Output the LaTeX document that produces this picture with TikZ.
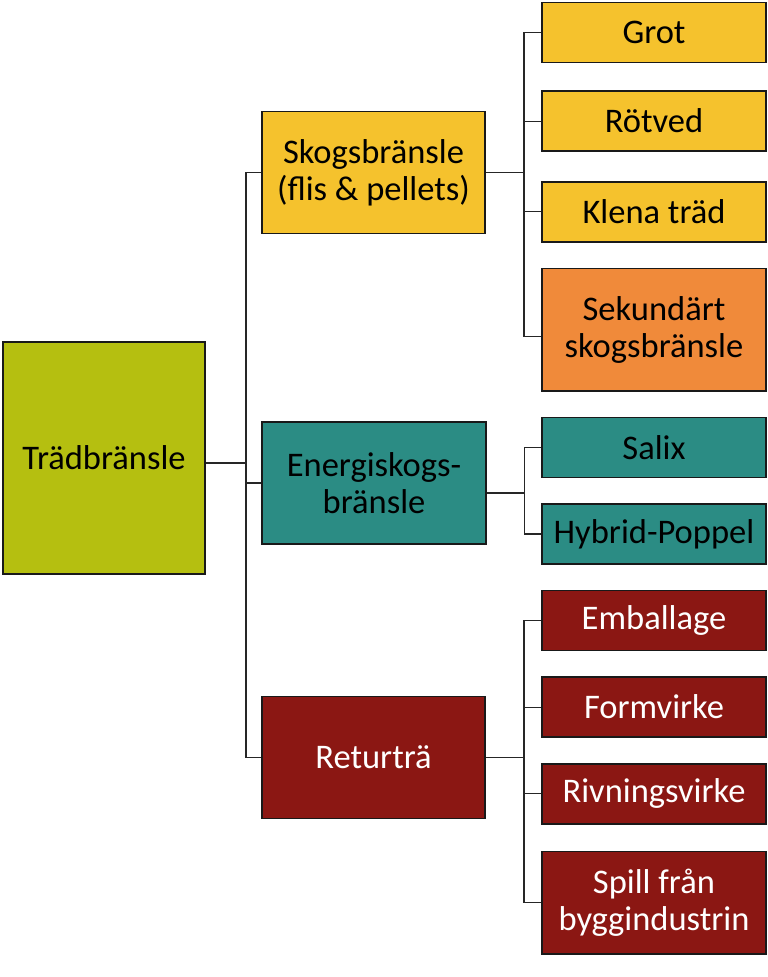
\documentclass[tikz,border=0pt]{standalone}
\usepackage{fontspec}
\setmainfont{Carlito}
\usepackage{xcolor}
\usepackage{tikz}
\usetikzlibrary{positioning}

\definecolor{rootgreen}{HTML}{B5BF10}
\definecolor{forestyellow}{HTML}{F5C22D}
\definecolor{secorange}{HTML}{F08A3A}
\definecolor{energyteal}{HTML}{2B8C84}
\definecolor{recycledred}{HTML}{8B1713}

\begin{document}
\begin{tikzpicture}[x=1pt, y=-1pt, node distance=25pt,
        every node/.style={font=\fontsize{34.5}{37}\selectfont, align=center},
        fuelbox/.style={draw=black!90, line width=1.6pt, minimum width=224.5pt, minimum height=60pt, inner sep=2pt},
        link/.style={draw=black!85, line width=1.2pt}]
        \useasboundingbox (0,0) rectangle (768,977);
        % Root
        \node[fuelbox, fill=rootgreen, minimum width=202.5pt, minimum height=232.5pt] (trad) at (104,458) {Trädbränsle};
        % Skogsbränsle
        \node[fuelbox, fill=forestyellow, minimum width=223.5pt, minimum height=122pt] (skogs) at (373.5,172.5) {Skogsbränsle\\(flis \& pellets)};
        % Energiskogsbränsle
        \node[fuelbox, fill=energyteal, minimum width=223.5pt, minimum height=122pt] (energi) at (374,483) {Energiskogs-\\bränsle};
        % Returträ
        \node[fuelbox, fill=recycledred, text=white, minimum width=223.5pt, minimum height=122pt] (retur) at (373.5,757.5) {Returträ};
        % Skogsbränsle kinds
        \node[fuelbox, fill=forestyellow] (grot) at (654,32.5) {Grot};
        \node[fuelbox, fill=forestyellow, below=27pt of grot] (rotved) {Rötved};
        \node[fuelbox, fill=forestyellow, below=29pt of rotved] (klena) {Klena träd};
        \node[fuelbox, fill=secorange, minimum height=122.4pt, below=of klena] (sekund) {Sekundärt\\skogsbränsle};
        % Energiskog kinds
        \node[fuelbox, fill=energyteal, below=of sekund] (salix) {Salix};
        \node[fuelbox, fill=energyteal, below=of salix] (hybrid) {Hybrid-Poppel};
        % Returträ kinds
        \node[fuelbox, fill=recycledred, text=white, below=of hybrid] (emballage) {Emballage};
        \node[fuelbox, fill=recycledred, text=white, below=of emballage] (formvirke) {Formvirke};
        \node[fuelbox, fill=recycledred, text=white, below=of formvirke] (rivning) {Rivningsvirke};
        \node[fuelbox, fill=recycledred, text=white, minimum height=102.4pt, below=26pt of rivning] (spill) {Spill från\\byggindustrin};
        % Links
        \draw[link] ([yshift=-5pt]trad.east) -- ++(40,0) |- (skogs.west);
        \draw[link] ([yshift=-5pt]trad.east) -- ++(40,0) |- (energi.west);
        \draw[link] ([yshift=-5pt]trad.east) -- ++(40,0) |- (retur.west);
        \draw[link] (skogs.east) -- ++(38,0) |- (grot.west);
        \draw[link] (skogs.east) -- ++(38,0) |- (rotved.west);
        \draw[link] (skogs.east) -- ++(38,0) |- (klena.west);
        \draw[link] (skogs.east) -- ++(38,0) |- ([yshift=-7pt]sekund.west);
        \draw[link] ([yshift=-10pt]energi.east) -- ++(38,0) |- (salix.west);
        \draw[link] ([yshift=-10pt]energi.east) -- ++(38,0) |- (hybrid.west);
        \draw[link] (retur.east) -- ++(38,0) |- (emballage.west);
        \draw[link] (retur.east) -- ++(38,0) |- (formvirke.west);
        \draw[link] (retur.east) -- ++(38,0) |- (rivning.west);
        \draw[link] (retur.east) -- ++(38,0) |- (spill.west);
    \end{tikzpicture}
\end{document}
